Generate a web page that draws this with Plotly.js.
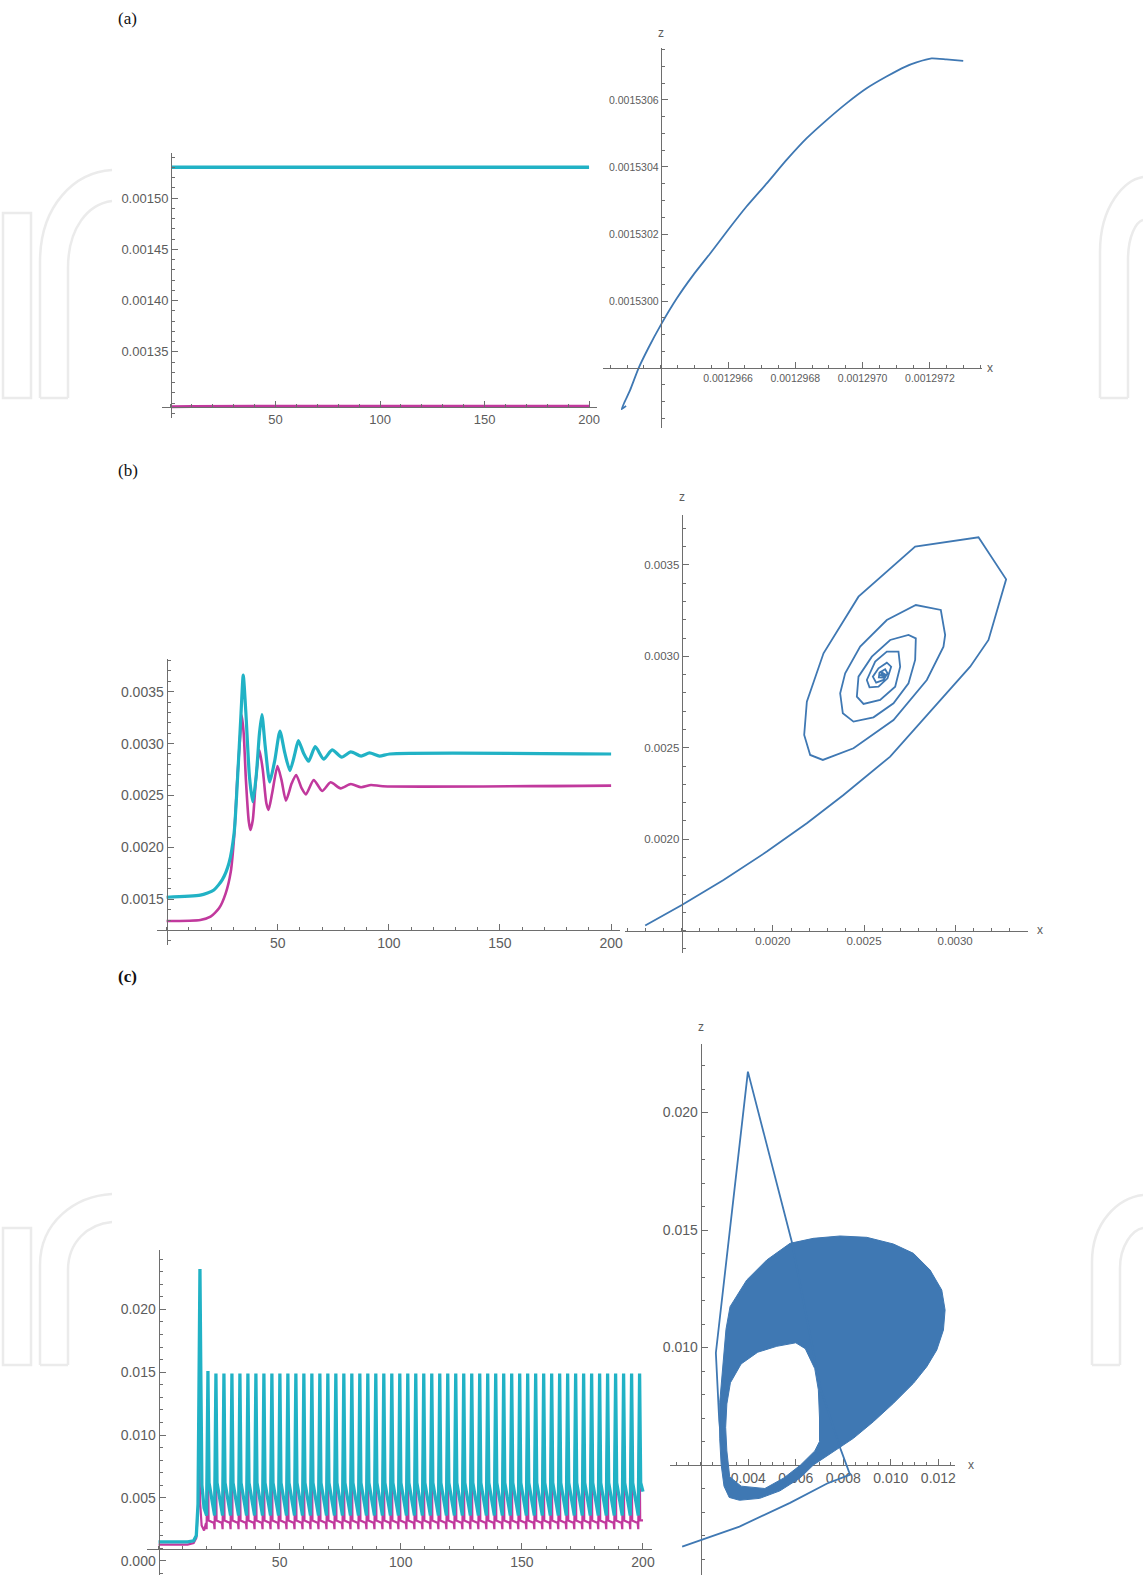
<!DOCTYPE html>
<html><head><meta charset="utf-8">
<script src="https://cdn.plot.ly/plotly-3.0.1.min.js"></script>
<style>html,body{margin:0;padding:0;background:#fff}</style>
</head><body><div id="chart" style="width:1143px;height:1575px"></div>
<script>
// ---------------- DATA ----------------
// (a) time series
const aT = [0, 5, 10, 50, 100, 150, 200];
const aZ = [0.0015299, 0.0015300, 0.0015300, 0.0015299, 0.0015299, 0.0015299, 0.0015299];
const aX = [0.0012966, 0.0012968, 0.0012969, 0.0012970, 0.0012970, 0.0012970, 0.0012970];
// (a) phase plot x-z
const aPX = [0.001296297,0.001296284,0.001296292,0.001296309,0.001296334,0.001296363,0.001296400,0.001296448,0.001296497,0.001296547,0.001296600,0.001296655,0.001296715,0.001296774,0.001296834,0.001296893,0.001296952,0.001297012,0.001297071,0.001297126,0.001297160,0.001297205,0.001297249,0.001297299];
const aPZ = [0.001529687,0.001529677,0.001529697,0.001529734,0.001529799,0.001529859,0.001529928,0.001530008,0.001530078,0.001530142,0.001530212,0.001530282,0.001530351,0.001530421,0.001530486,0.001530540,0.001530590,0.001530635,0.001530670,0.001530699,0.001530712,0.001530724,0.001530721,0.001530717];

// (b) time series
const bTz = [0,15.2,21.3,25.1,28.1,30.4,31.9,33.5,34.5,35.7,37.3,38.8,40.3,41.8,42.9,44.4,46.4,48.7,51.0,53.2,55.5,57.8,59.3,61.6,63.9,66.9,70.7,74.5,78.8,82.9,87.5,91.3,95.8,100.4,200];
const bZ  = [0.00152,0.00154,0.00159,0.00169,0.00185,0.00214,0.00265,0.00329,0.00366,0.00329,0.00268,0.00244,0.00268,0.00310,0.00328,0.00297,0.00263,0.00284,0.00312,0.00291,0.00274,0.00291,0.00303,0.00291,0.00283,0.00297,0.00285,0.00294,0.00287,0.00292,0.00288,0.00291,0.00288,0.00290,0.00290];
const bTx = [0,15.2,19.8,23.6,26.6,28.9,30.4,31.9,33.2,33.8,34.7,35.7,37.0,37.7,38.8,40.3,41.8,43.3,44.9,45.9,47.5,49.9,51.7,53.7,56.3,58.3,60.8,62.7,66.2,70.0,73.8,78.3,82.9,87.5,92.0,97.3,200];
const bX  = [0.001291,0.001301,0.001333,0.001413,0.001558,0.001767,0.002104,0.002682,0.003099,0.003276,0.003099,0.002650,0.002248,0.002168,0.002264,0.002682,0.002939,0.002746,0.002425,0.002361,0.002521,0.002784,0.002650,0.002450,0.002617,0.002698,0.002569,0.002511,0.002650,0.002544,0.002627,0.002569,0.002611,0.002579,0.002601,0.002589,0.002595];
// (b) phase plot x-z
const bPX = [0.0012998,0.0015009,0.0017294,0.0019671,0.0021865,0.0023876,0.0026435,0.0028629,0.0030823,0.0031829,0.0032797,0.0031280,0.0027806,0.0024698,0.0022779,0.0021865,0.0021719,0.0022048,0.0022742,0.0024424,0.0026618,0.0028446,0.0029360,0.0029452,0.0029214,0.0027843,0.0026252,0.0024790,0.0023967,0.0023693,0.0023839,0.0024424,0.0025521,0.0026618,0.0027441,0.0027806,0.0027843,0.0027441,0.0026435,0.0025430,0.0024698,0.0024607,0.0024973,0.0025887,0.0026710,0.0026984,0.0026892,0.0026252,0.0025613,0.0025156,0.0025302,0.0025795,0.0026289,0.0026490,0.0026252,0.0025795,0.0025485,0.0025667,0.0026070,0.0026289,0.0026161,0.0025850,0.0025814,0.0026033,0.0026143,0.0025996,0.0025923,0.0026051,0.0026070,0.0026035,0.0026010,0.0025975,0.0026005,0.0026040,0.0025990,0.0025985,0.0026025];
const bPZ = [0.0015280,0.0016410,0.0017777,0.0019326,0.0020875,0.0022424,0.0024520,0.0026980,0.0029440,0.0030899,0.0034216,0.0036512,0.0036002,0.0033268,0.0030170,0.0027527,0.0025704,0.0024611,0.0024338,0.0024975,0.0026525,0.0028712,0.0030534,0.0031172,0.0032539,0.0032812,0.0031992,0.0030534,0.0029076,0.0027983,0.0026889,0.0026433,0.0026670,0.0027436,0.0028529,0.0029805,0.0030990,0.0031172,0.0030899,0.0029987,0.0028894,0.0027800,0.0027399,0.0027618,0.0028347,0.0029440,0.0030260,0.0030260,0.0029714,0.0028712,0.0028311,0.0028347,0.0028803,0.0029440,0.0029659,0.0029349,0.0028894,0.0028566,0.0028712,0.0029076,0.0029295,0.0029113,0.0028857,0.0028839,0.0029021,0.0029113,0.0028967,0.0028930,0.0029040,0.0028985,0.0029075,0.0029020,0.0028960,0.0029035,0.0029050,0.0028990,0.0029010];

// (c) time series: start-up transient
const cStartTz = [0, 12, 14.5, 15.6, 16.3, 16.75, 17.1, 17.5, 17.9, 18.8];
const cStartZ  = [0.00150, 0.00150, 0.00158, 0.00200, 0.00450, 0.01500, 0.02320, 0.01400, 0.00600, 0.00420];
const cStartTx = [0, 12, 14.5, 15.6, 16.4, 16.8, 17.2, 17.8, 18.8];
const cStartX  = [0.00128, 0.00128, 0.00140, 0.00180, 0.00450, 0.00840, 0.00450, 0.00280, 0.00240];
// (c) time series: regular spikes (time and height of each peak)
const cPeakT = [20.4,23.7,27.0,30.3,33.6,36.9,40.2,43.5,46.8,50.1,53.4,56.7,60.0,63.3,66.6,69.9,73.2,76.5,79.8,83.1,86.4,89.7,93.0,96.3,99.6,102.9,106.2,109.5,112.8,116.1,119.4,122.7,126.0,129.3,132.6,135.9,139.2,142.5,145.8,149.1,152.4,155.7,159.0,162.3,165.6,168.9,172.2,175.5,178.8,182.1,185.4,188.7,192.0,195.3,198.6];
const cPeakZ = [0.0151,0.0149,0.0149,0.0149,0.0149,0.0149,0.0149,0.0149,0.0149,0.0149,0.0149,0.0149,0.0149,0.0149,0.0149,0.0149,0.0149,0.0149,0.0149,0.0149,0.0149,0.0149,0.0149,0.0149,0.0149,0.0149,0.0149,0.0149,0.0149,0.0149,0.0149,0.0149,0.0149,0.0149,0.0149,0.0149,0.0149,0.0149,0.0149,0.0149,0.0149,0.0149,0.0149,0.0149,0.0149,0.0149,0.0149,0.0149,0.0149,0.0149,0.0149,0.0149,0.0149,0.0149,0.0149];
const cPeakX = [0.0122,0.0122,0.0122,0.0122,0.0122,0.0122,0.0122,0.0122,0.0122,0.0122,0.0122,0.0122,0.0122,0.0122,0.0122,0.0122,0.0122,0.0122,0.0122,0.0122,0.0122,0.0122,0.0122,0.0122,0.0122,0.0122,0.0122,0.0122,0.0122,0.0122,0.0122,0.0122,0.0122,0.0122,0.0122,0.0122,0.0122,0.0122,0.0122,0.0122,0.0122,0.0122,0.0122,0.0122,0.0122,0.0122,0.0122,0.0122,0.0122,0.0122,0.0122,0.0122,0.0122,0.0122,0.0122];
// one cycle's turning points, read relative to each peak (time offset, level)
const cCyanCycleDt = [-0.55, 0, 0.45];
const cCyanCycleLv = [0.0036, 'peak', 0.0062];
const cMagCycleDt  = [-0.8, -0.55, -0.1, 0.25];
const cMagCycleLv  = [0.0030, 0.0025, 'peak', 0.0032];
const cEndT = 200, cEndZ = 0.0055, cEndX = 0.0032;

// (c) phase plot: transient path
const cTrX = [0.00122,0.003631,0.005759,0.007319,0.008284,0.007887,0.007035,0.00583,0.003986,0.002638,0.00278,0.002993];
const cTrZ = [0.001524,0.002379,0.00339,0.004215,0.004588,0.005677,0.008289,0.01451,0.02174,0.009767,0.00689,0.004712];
// (c) phase plot: dense attractor region, outer edge then the inner hole (traced the other way)
const cBlobX = [0.006742,0.007864,0.008987,0.010109,0.010951,0.011652,0.012143,0.012283,0.012213,0.011933,0.011512,0.010951,0.010109,0.009267,0.008425,0.007584,0.006742,0.006184,0.005333,0.004482,0.003631,0.003200,0.002980,0.002860,0.002800,0.002800,0.002922,0.003064,0.003235,0.003936,0.004778,0.005760,0.006742,
  0.006000,0.005200,0.004400,0.003700,0.003250,0.003100,0.003050,0.003100,0.003220,0.003700,0.004700,0.005500,0.006200,0.006800,0.007000,0.007000,0.006950,0.006800,0.006400,0.006000];
const cBlobZ = [0.014645,0.014745,0.014688,0.014404,0.014007,0.013298,0.012447,0.011596,0.010745,0.009894,0.009184,0.008475,0.007624,0.006844,0.006135,0.005567,0.005000,0.004450,0.003900,0.003580,0.003500,0.003620,0.004100,0.005023,0.006112,0.007667,0.009222,0.010778,0.011738,0.012872,0.013723,0.014433,0.014645,
  0.010200,0.010050,0.009800,0.009300,0.008500,0.007600,0.006600,0.005600,0.004500,0.004100,0.004000,0.004450,0.005000,0.005600,0.006000,0.007000,0.008200,0.009100,0.009950,0.010200];

// tick labels
const aLxTicks = [50,100,150,200], aLyTicks = [0.00135,0.0014,0.00145,0.0015];
const aRxTicks = [0.0012966,0.0012968,0.0012970,0.0012972], aRyTicks = [0.0015300,0.0015302,0.0015304,0.0015306];
const bLxTicks = [50,100,150,200], bLyTicks = [0.0015,0.002,0.0025,0.003,0.0035];
const bRxTicks = [0.002,0.0025,0.003], bRyTicks = [0.002,0.0025,0.003,0.0035];
const cLxTicks = [50,100,150,200], cLyTicks = [0,0.005,0.01,0.015,0.02];
const cRxTicks = [0.004,0.006,0.008,0.010,0.012], cRyTicks = [0.010,0.015,0.020];

// ---------------- BUILD ----------------
const CYAN = '#21b2c5', MAG = '#c1399d', BLUE = '#3f78b3';
const W = 1143, H = 1575;

// (c) time series assembled from the read peaks and the read cycle shape
const cTz = cStartTz.slice(), cZ = cStartZ.slice();
const cTx = cStartTx.slice(), cX = cStartX.slice();
cPeakT.forEach((p, k) => {
  cCyanCycleDt.forEach((d, i) => { cTz.push(p + d); cZ.push(cCyanCycleLv[i] === 'peak' ? cPeakZ[k] : cCyanCycleLv[i]); });
  cMagCycleDt.forEach((d, i) => { cTx.push(p + d); cX.push(cMagCycleLv[i] === 'peak' ? cPeakX[k] : cMagCycleLv[i]); });
});
cTz.push(cEndT); cZ.push(cEndZ); cTx.push(cEndT); cX.push(cEndX);

// panel geometry (pixels), axis ranges and axis crossing points
const boxes = {
  aL:{px:[162,597], py:[153,418], xr:[-4.3,203.8], yr:[0.0012856,0.0015439], cross:[0,0.001296], fs:13,
      xt:aLxTicks, xf:'d', xm:[0,10], yt:aLyTicks, yf:'.5f', ym:[0.0013,0.00001]},
  aR:{px:[602.7,981.7], py:[48,428], xr:[0.0012962276,0.0012973539], yr:[0.0015296209,0.0015307552], cross:[0.0012964,0.0015298], fs:10.5,
      xt:aRxTicks, xf:'.7f', xm:[0.0012964,0.00000005], yt:aRyTicks, yf:'.7f', ym:[0.0015298,0.00000005]},
  bL:{px:[157,620], py:[659.3,945], xr:[-4.3,204.0], yr:[0.00106,0.003812], cross:[0,0.0012], fs:14,
      xt:bLxTicks, xf:'d', xm:[0,10], yt:bLyTicks, yf:'.4f', ym:[0.0012,0.0001]},
  bR:{px:[625,1028], py:[515,953], xr:[0.001189,0.0033996], yr:[0.001378,0.0037734], cross:[0.0015,0.0015], fs:11.5,
      xt:bRxTicks, xf:'.4f', xm:[0.0015,0.0001], yt:bRyTicks, yf:'.4f', ym:[0.0015,0.0001]},
  cL:{px:[146.9,651.7], py:[1250,1575], xr:[-4.8,203.6], yr:[-0.00114,0.02472], cross:[0,0.00093], fs:14,
      xt:cLxTicks, xf:'d', xm:[0,10], yt:cLyTicks, yf:'.3f', ym:[0,0.001]},
  cR:{px:[670,955], py:[1044,1575], xr:[0.000708,0.0127], yr:[0.000319,0.022915], cross:[0.002,0.005], fs:14,
      xt:cRxTicks, xf:'.3f', xm:[0.002,0.0005], yt:cRyTicks, yf:'.3f', ym:[0,0.001], below:true}
};
const order = ['aL','aR','bL','bR','cL','cR'];
const layout = {
  width:W, height:H, autosize:false, margin:{l:0,r:0,t:0,b:0},
  paper_bgcolor:'#ffffff', plot_bgcolor:'rgba(0,0,0,0)', showlegend:false,
  annotations:[], shapes:[]
};
const AX = '#6e6e6e';
order.forEach((key, i) => {
  const b = boxes[key];
  const n = i === 0 ? '' : String(i+1);
  const dx = [b.px[0]/W, b.px[1]/W];
  const dy = [1 - b.py[1]/H, 1 - b.py[0]/H];
  const posY = dy[0] + (b.cross[1]-b.yr[0])/(b.yr[1]-b.yr[0])*(dy[1]-dy[0]);
  const posX = dx[0] + (b.cross[0]-b.xr[0])/(b.xr[1]-b.xr[0])*(dx[1]-dx[0]);
  const common = {
    showline:true, linecolor:AX, linewidth:1, ticks:'inside', tickcolor:AX, ticklen:6, tickwidth:1,
    showgrid:false, zeroline:false, fixedrange:true, tickmode:'array',
    tickfont:{family:'Liberation Sans, Arial, sans-serif', size:b.fs, color:'#5c5c5c'},
    layer: b.below ? 'below traces' : 'above traces'
  };
  layout['xaxis'+n] = Object.assign({}, common, {
    domain:dx, range:b.xr, anchor:'free', position:posY, tickvals:b.xt, tickformat:b.xf,
    minor:{tickmode:'linear', tick0:b.xm[0], dtick:b.xm[1], ticks:'inside', ticklen:3, tickcolor:AX, showgrid:false}
  });
  layout['yaxis'+n] = Object.assign({}, common, {
    domain:dy, range:b.yr, anchor:'free', position:posX, tickvals:b.yt, tickformat:b.yf,
    minor:{tickmode:'linear', tick0:b.ym[0], dtick:b.ym[1], ticks:'inside', ticklen:3, tickcolor:AX, showgrid:false}
  });
  b.xa = 'x'+n; b.ya = 'y'+n;
});

const line = (x, y, b, color, w, extra) => Object.assign({
  type:'scatter', mode:'lines', x:x, y:y, xaxis:b.xa, yaxis:b.ya,
  line:{color:color, width:w}, hoverinfo:'skip'
}, extra || {});

const data = [
  line(aT, aX, boxes.aL, MAG, 3),
  line(aT, aZ, boxes.aL, CYAN, 3.5),
  line(aPX, aPZ, boxes.aR, BLUE, 1.8, {line:{color:BLUE, width:1.8, shape:'spline', smoothing:0.5}}),
  line(bTx, bX, boxes.bL, MAG, 2.6, {line:{color:MAG, width:2.6, shape:'spline', smoothing:0.6}}),
  line(bTz, bZ, boxes.bL, CYAN, 3.2, {line:{color:CYAN, width:3.2, shape:'spline', smoothing:0.6}}),
  line(bPX, bPZ, boxes.bR, BLUE, 1.8),
  line(cTx, cX, boxes.cL, MAG, 2.2),
  line(cTz, cZ, boxes.cL, CYAN, 3.3),
  line(cBlobX, cBlobZ, boxes.cR, BLUE, 1, {fill:'toself', fillcolor:BLUE}),
  line(cTrX, cTrZ, boxes.cR, BLUE, 1.8)
];

// text annotations
const px2 = (x, y) => ({x:x/W, y:1 - y/H, xref:'paper', yref:'paper', showarrow:false});
const serif = 'Liberation Serif, Times New Roman, serif';
const sans = 'Liberation Sans, Arial, sans-serif';
layout.annotations.push(Object.assign(px2(116,18), {text:'(a)', xanchor:'left', yanchor:'middle', font:{family:serif, size:17, color:'#111'}}));
layout.annotations.push(Object.assign(px2(116,470), {text:'(b)', xanchor:'left', yanchor:'middle', font:{family:serif, size:17, color:'#111'}}));
layout.annotations.push(Object.assign(px2(116,977), {text:'<b>(c)</b>', xanchor:'left', yanchor:'middle', font:{family:serif, size:17, color:'#111'}}));
[[660.7,33,'z'],[990,368,'x'],[681.7,497,'z'],[1040,930,'x'],[700.7,1027,'z'],[971,1465,'x']].forEach(a => {
  layout.annotations.push(Object.assign(px2(a[0],a[1]), {text:a[2], xanchor:'center', yanchor:'middle', font:{family:sans, size:12, color:'#5c5c5c'}}));
});

// faint publisher watermark outlines in the page margins
const P = (x, y) => (x/W).toFixed(5) + ',' + (1 - y/H).toFixed(5);
const wm = [
  `M${P(3,213)} L${P(31,213)} L${P(31,398)} L${P(3,398)} Z`,
  `M${P(40,398)} L${P(40,262)} C${P(40,205)} ${P(75,172)} ${P(112,170)}`,
  `M${P(68,398)} L${P(68,268)} C${P(68,228)} ${P(88,204)} ${P(112,201)}`,
  `M${P(40,398)} L${P(68,398)}`,
  `M${P(1100,398)} L${P(1100,252)} C${P(1100,205)} ${P(1125,180)} ${P(1143,177)}`,
  `M${P(1128,398)} L${P(1128,260)} C${P(1128,236)} ${P(1136,222)} ${P(1143,220)}`,
  `M${P(1100,398)} L${P(1128,398)}`,
  `M${P(3,1228)} L${P(31,1228)} L${P(31,1365)} L${P(3,1365)} Z`,
  `M${P(40,1365)} L${P(40,1265)} C${P(40,1222)} ${P(75,1196)} ${P(112,1194)}`,
  `M${P(68,1365)} L${P(68,1270)} C${P(68,1242)} ${P(88,1224)} ${P(112,1222)}`,
  `M${P(40,1365)} L${P(68,1365)}`,
  `M${P(1092,1365)} L${P(1092,1262)} C${P(1092,1222)} ${P(1118,1198)} ${P(1143,1195)}`,
  `M${P(1120,1365)} L${P(1120,1268)} C${P(1120,1246)} ${P(1132,1230)} ${P(1143,1228)}`,
  `M${P(1092,1365)} L${P(1120,1365)}`
];
wm.forEach(p => layout.shapes.push({type:'path', path:p, xref:'paper', yref:'paper', layer:'below', line:{color:'#ebebeb', width:2.5}}));

Plotly.newPlot('chart', data, layout, {staticPlot:true, displayModeBar:false});
</script></body></html>
